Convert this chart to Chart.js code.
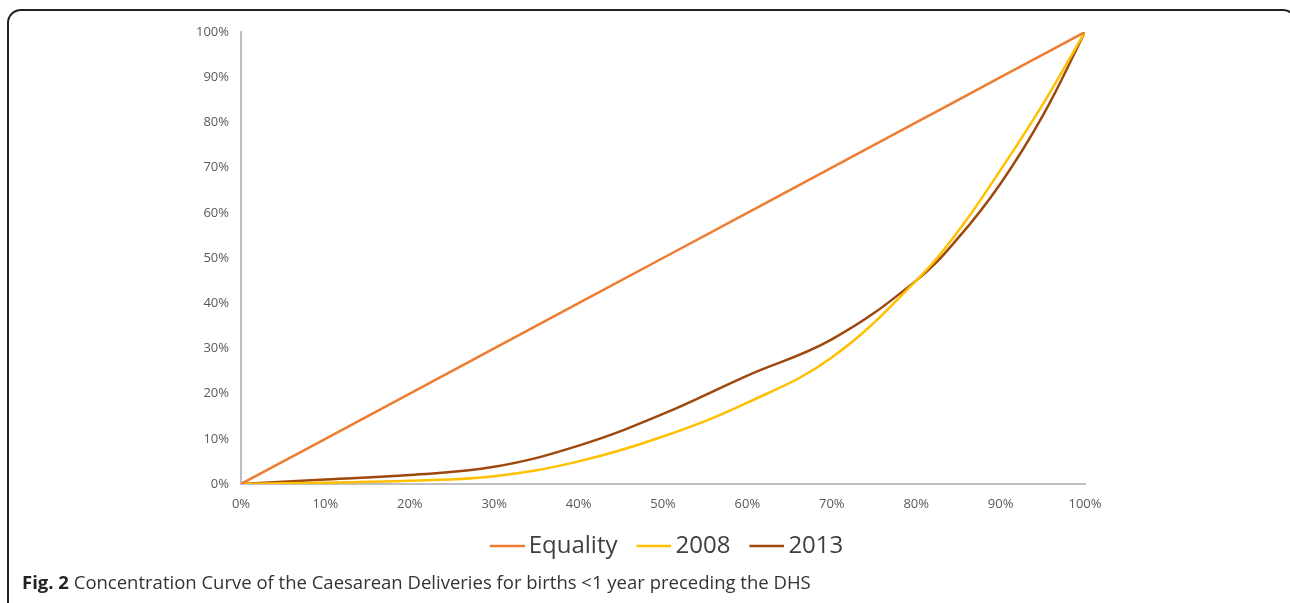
<!DOCTYPE html>
<html>
<head>
<meta charset="utf-8">
<script src="https://cdn.jsdelivr.net/npm/chart.js@4.4.1/dist/chart.umd.min.js"></script>
<style>
  body { margin: 0; background: #fff; width: 1290px; height: 603px; overflow: hidden; position: relative; }
  #frame { position: absolute; left: 7px; top: 9px; width: 1290px; height: 620px; border: 2px solid #222; border-radius: 14px; box-sizing: border-box; }
  #wrap { position: absolute; left: 0; top: 0; width: 1290px; height: 578px; }
  #caption { position: absolute; left: 22px; top: 569px; font-family: "Open Sans", sans-serif; font-size: 18.5px; color: #333; white-space: nowrap; }
  #caption b { color: #222; }
</style>
</head>
<body>
<div id="frame"></div>
<div id="wrap"><canvas id="curveChart"></canvas></div>
<div id="caption"><b>Fig. 2</b> Concentration Curve of the Caesarean Deliveries for births &lt;1 year preceding the DHS</div>
<script>
// cumulative share of births (x) in percent
var xShare = [0, 10, 20, 30, 40, 50, 60, 70, 80, 85, 90, 95, 100];
var equality = [0, 10, 20, 30, 40, 50, 60, 70, 80, 85, 90, 95, 100];
var y2008 = [0, 0.3, 0.7, 1.7, 5, 10.5, 18, 28, 45, 56, 69.5, 84, 100];
var y2013 = [0, 1, 2, 3.8, 8.5, 15.5, 24, 32, 45, 54.5, 66.5, 81.5, 100];
var seriesNames = ['Equality', '2008', '2013'];
var seriesColors = ['#ED7D31', '#FFC000', '#9E480E'];

function toPoints(vals) {
    var pts = [];
    for (var i = 0; i < xShare.length; i++) {
        pts.push({ x: xShare[i], y: vals[i] });
    }
    return pts;
}

// legend line image, shifted right so the text sits close to it
function legendLine(color) {
    var c = document.createElement('canvas');
    c.width = 50;
    c.height = 6;
    var g = c.getContext('2d');
    g.strokeStyle = color;
    g.lineWidth = 2.5;
    g.beginPath();
    g.moveTo(15, 3);
    g.lineTo(50, 3);
    g.stroke();
    return c;
}

var allSeries = [equality, y2008, y2013];
var datasets = [];
for (var s = 0; s < allSeries.length; s++) {
    datasets.push({
        label: seriesNames[s],
        data: toPoints(allSeries[s]),
        borderColor: seriesColors[s],
        backgroundColor: seriesColors[s],
        borderWidth: 2.5,
        pointRadius: 0,
        pointStyle: legendLine(seriesColors[s]),
        fill: false,
        tension: s == 0 ? 0 : 0.4,
        showLine: true
    });
}

var tickFont = { family: '"Open Sans", sans-serif', size: 13 };

var ctx = document.getElementById('curveChart').getContext('2d');
var curveChart = new Chart(ctx, {
    type: 'scatter',
    data: { datasets: datasets },
    options: {
        responsive: true,
        maintainAspectRatio: false,
        animation: false,
        layout: { padding: { left: 160, right: 205, top: 32, bottom: 10 } },
        plugins: {
            tooltip: { enabled: false },
            legend: {
                position: 'bottom',
                fullSize: false,
                labels: {
                    usePointStyle: true,
                    pointStyleWidth: 34,
                    color: '#404040',
                    padding: 12,
                    font: { family: '"Open Sans", sans-serif', size: 24 }
                }
            }
        },
        scales: {
            x: {
                type: 'linear',
                min: 0, max: 100,
                grid: { display: false, drawTicks: false },
                border: { color: '#bfbfbf', width: 2 },
                ticks: {
                    stepSize: 10,
                    padding: 12,
                    color: '#595959',
                    font: tickFont,
                    maxRotation: 0,
                    callback: function (v) { return v + '%'; }
                },
                afterFit: function (scale) { scale.height = 38; }
            },
            y: {
                type: 'linear',
                min: 0, max: 100,
                grid: { display: false, drawTicks: false },
                border: { color: '#bfbfbf', width: 2 },
                ticks: {
                    stepSize: 10,
                    padding: 12,
                    color: '#595959',
                    font: tickFont,
                    callback: function (v) { return v + '%'; }
                },
                afterFit: function (scale) { scale.width = 81; }
            }
        }
    }
});
</script>
</body>
</html>
